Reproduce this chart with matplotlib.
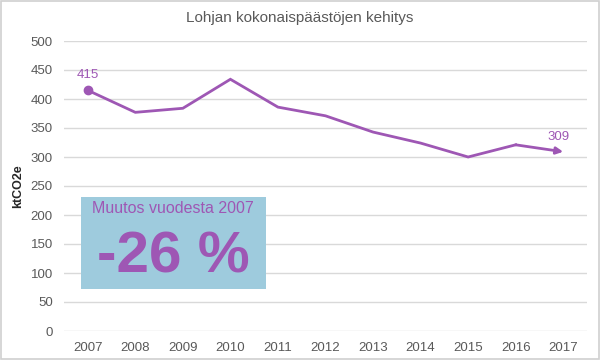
import matplotlib
matplotlib.use('Agg')
import matplotlib.pyplot as plt
from matplotlib.patches import Rectangle

plt.rcParams['font.family'] = ['Liberation Sans', 'DejaVu Sans']

# --- Data ---
years = [2007, 2008, 2009, 2010, 2011, 2012, 2013, 2014, 2015, 2016, 2017]
emissions = [415, 377, 384, 434, 386, 371, 343, 324, 300, 321, 309]
y_ticks = [0, 50, 100, 150, 200, 250, 300, 350, 400, 450, 500]
title = 'Lohjan kokonaispäästöjen kehitys'
change_label = 'Muutos vuodesta 2007'
change_value = '-26 %'

PURPLE = '#9E57B4'
BOX = '#9ECBDD'
GREY = '#595959'

fig = plt.figure(figsize=(6, 3.6), dpi=100)
ax = fig.add_axes([64 / 600, 29 / 360, 523 / 600, 290 / 360])

# main line (last segment drawn as arrow)
ax.plot(years[:-1], emissions[:-1], color=PURPLE, lw=2, solid_joinstyle='miter', zorder=3)
ax.plot(years[0], emissions[0], 'o', color=PURPLE, ms=6, zorder=4)
ax.annotate('', xy=(years[-1], emissions[-1]), xytext=(years[-2], emissions[-2]),
            arrowprops=dict(arrowstyle='-|>', color=PURPLE, lw=2,
                            mutation_scale=10, shrinkA=0, shrinkB=0), zorder=3)

# data labels for first and last
ax.text(years[0], emissions[0] + 16, f'{emissions[0]}', color=PURPLE,
        fontsize=9.5, ha='center', va='bottom')
ax.text(years[-1] - 0.1, emissions[-1] + 16, f'{emissions[-1]}', color=PURPLE,
        fontsize=9.5, ha='center', va='bottom')

# change box
ax.add_patch(Rectangle((2006.85, 72), 3.9, 159, facecolor=BOX, edgecolor='none', zorder=5))
ax.text(2008.8, 212, change_label, color=PURPLE, fontsize=11.5,
        ha='center', va='center', zorder=6)
ax.text(2008.8, 126, change_value, color=PURPLE, fontsize=42, fontweight='bold',
        ha='center', va='center', zorder=6)

ax.set_xlim(years[0] - 0.5, years[-1] + 0.5)
ax.set_ylim(0, 500)
ax.set_xticks(years)
ax.set_yticks(y_ticks)
ax.tick_params(axis='both', length=0, colors=GREY, labelsize=9.5)
ax.tick_params(axis='x', pad=8)
ax.tick_params(axis='y', pad=8)
ax.grid(axis='y', color='#D9D9D9', lw=1)
ax.set_axisbelow(True)
for s in ax.spines.values():
    s.set_visible(False)

fig.text(18 / 600, 1 - 186 / 360, 'ktCO2e', rotation=90, ha='center', va='center',
         fontsize=9, fontweight='bold', color='#262626')
fig.text(0.5, 1 - 18 / 360, title, ha='center', va='center', fontsize=11, color=GREY)

# outer border
fig.patches.append(Rectangle((0.001, 0.002), 0.997, 0.995, transform=fig.transFigure,
                             fill=False, edgecolor='#D0D0D0', lw=1.2))

fig.savefig('out.png', dpi=100)
